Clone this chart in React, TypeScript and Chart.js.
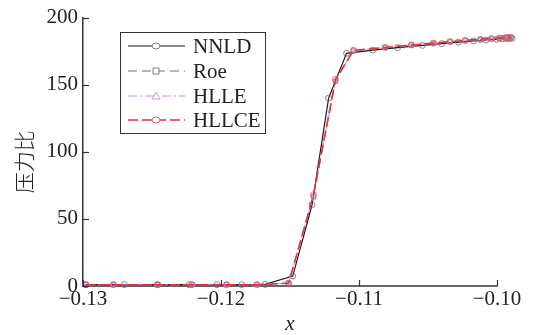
import React, { useEffect, useRef } from "react";
import { Chart, registerables } from "chart.js";

Chart.register(...registerables);

// ---- data ----
const xTicks = [-0.13, -0.12, -0.11, -0.1];
const yTicks = [0, 50, 100, 150, 200];
const X_AXIS_MIN = -0.13;
const X_AXIS_END = -0.1;
const X_VIEW_MAX = -0.09891;

const nnldX = [-0.1298, -0.127, -0.1246, -0.1223, -0.1203, -0.1185, -0.1168, -0.1148, -0.1134, -0.1122, -0.1109, -0.109, -0.1072, -0.1054, -0.104, -0.1028, -0.1017, -0.1008, -0.1, -0.0996, -0.0993, -0.0991, -0.0989];
const nnldY = [1, 1, 1, 1, 1, 1, 1.2, 7.4, 60.5, 140, 173.4, 175.8, 177.6, 179.3, 180.6, 181.7, 182.6, 183.3, 183.9, 184.2, 184.4, 184.5, 184.6];

const schemeX = [-0.1298, -0.1278, -0.1246, -0.1221, -0.1196, -0.1174, -0.1151, -0.1133, -0.1117, -0.1104, -0.1081, -0.1062, -0.1046, -0.1034, -0.1023, -0.1012, -0.1004, -0.0998, -0.0994, -0.0992, -0.099];
const roeY = [1, 1, 1, 1, 1, 1, 2.2, 66.5, 152.5, 175.2, 177.6, 179.4, 180.8, 181.9, 182.8, 183.6, 184.2, 184.6, 184.9, 185.0, 185.1];
const hlleY = [1, 1, 1, 1, 1, 1, 2.1, 67.2, 153.2, 175.4, 177.7, 179.5, 180.9, 182.0, 182.9, 183.7, 184.3, 184.7, 185.0, 185.1, 185.2];
const hllceY = [1, 1, 1, 1, 1, 1, 2, 68, 154, 175.6, 177.8, 179.6, 181.0, 182.1, 183.0, 183.8, 184.4, 184.8, 185.1, 185.2, 185.3];

const seriesNames = ["NNLD", "Roe", "HLLE", "HLLCE"];

const SERIF = "'Liberation Serif', 'DejaVu Serif', serif";

type Style = { line: string; marker: string; dash: number[]; point: string; width: number };
const styles: Style[] = [
  { line: "#1a1a1a", marker: "#6a6a6a", dash: [], point: "circle", width: 1.2 },
  { line: "#707070", marker: "#707070", dash: [9, 5], point: "rect", width: 1.0 },
  { line: "#c78fd9", marker: "#c78fd9", dash: [9, 3, 2, 3], point: "triangle", width: 1.0 },
  { line: "#e3323c", marker: "#e0505e", dash: [10, 4], point: "circle", width: 1.5 },
];

const toPts = (xs: number[], ys: number[]) => xs.map((x, i) => ({ x, y: ys[i] }));

const fmtX = (v: number) => {
  const s = Math.abs(v).toFixed(2);
  return v < 0 ? "\u2212" + s : s;
};

const overlay = {
  id: "overlay",
  beforeDatasetsDraw(chart: any) {
    const ctx = chart.ctx as CanvasRenderingContext2D;
    const xs = chart.scales.x;
    const area = chart.chartArea;
    ctx.save();
    ctx.strokeStyle = "#333";
    ctx.lineWidth = 1.5;
    ctx.beginPath();
    ctx.moveTo(xs.getPixelForValue(X_AXIS_MIN), area.bottom);
    ctx.lineTo(xs.getPixelForValue(X_AXIS_END) + 0.5, area.bottom);
    ctx.stroke();
    ctx.restore();
  },
  afterDraw(chart: any) {
    const ctx = chart.ctx as CanvasRenderingContext2D;
    const xs = chart.scales.x;
    const ys = chart.scales.y;
    const area = chart.chartArea;
    ctx.save();
    // inward ticks
    ctx.strokeStyle = "#333";
    ctx.lineWidth = 1.2;
    ctx.setLineDash([]);
    xTicks.forEach((v) => {
      const px = Math.round(xs.getPixelForValue(v)) + 0.5;
      ctx.beginPath();
      ctx.moveTo(px, area.bottom);
      ctx.lineTo(px, area.bottom - 6);
      ctx.stroke();
    });
    yTicks.forEach((v) => {
      const py = Math.round(ys.getPixelForValue(v)) + 0.5;
      ctx.beginPath();
      ctx.moveTo(area.left, py);
      ctx.lineTo(area.left + 6, py);
      ctx.stroke();
    });

    // axis titles
    const midX = (xs.getPixelForValue(X_AXIS_MIN) + xs.getPixelForValue(X_AXIS_END)) / 2;
    ctx.fillStyle = "#222";
    ctx.font = "italic 21px " + SERIF;
    ctx.textAlign = "center";
    ctx.textBaseline = "middle";
    ctx.fillText("x", midX, 324);
    ctx.save();
    ctx.translate(24, (area.top + area.bottom) / 2 + 10);
    ctx.rotate(-Math.PI / 2);
    ctx.font = "300 21px 'Noto Sans CJK SC', sans-serif";
    ctx.fillText("压力比", 0, 0);
    ctx.restore();

    // legend
    const bx = 120, by = 32, bw = 145, bh = 101;
    ctx.fillStyle = "#fff";
    ctx.fillRect(bx, by, bw, bh);
    ctx.strokeStyle = "#333";
    ctx.lineWidth = 1;
    ctx.strokeRect(bx + 0.5, by + 0.5, bw, bh);
    const rowY = [46, 71, 96, 120];
    seriesNames.forEach((name, i) => {
      const st = styles[i];
      const y = rowY[i];
      ctx.strokeStyle = st.line;
      ctx.lineWidth = st.width;
      ctx.setLineDash(st.dash);
      ctx.beginPath();
      ctx.moveTo(128, y);
      ctx.lineTo(185, y);
      ctx.stroke();
      ctx.setLineDash([]);
      ctx.strokeStyle = st.marker;
      ctx.lineWidth = 0.9;
      const cx = 156;
      ctx.fillStyle = "#fff";
      ctx.beginPath();
      if (st.point === "circle") {
        ctx.ellipse(cx, y, 4, 3, 0, 0, Math.PI * 2);
      } else if (st.point === "rect") {
        ctx.rect(cx - 3, y - 3, 6, 6);
      } else {
        ctx.moveTo(cx, y - 4);
        ctx.lineTo(cx + 4, y + 3);
        ctx.lineTo(cx - 4, y + 3);
        ctx.closePath();
      }
      ctx.fill();
      ctx.stroke();
      ctx.fillStyle = "#222";
      ctx.font = "21px " + SERIF;
      ctx.textAlign = "left";
      ctx.textBaseline = "middle";
      ctx.fillText(name, 193, y + 1);
    });
    ctx.restore();
  },
};

export default function App() {
  const ref = useRef<HTMLCanvasElement>(null);
  useEffect(() => {
    if (!ref.current) return;
    const dataSets = [toPts(nnldX, nnldY), toPts(schemeX, roeY), toPts(schemeX, hlleY), toPts(schemeX, hllceY)];
    const orders = [3, 2, 1, 0];
    const chart = new Chart(ref.current, {
      type: "line",
      data: {
        datasets: dataSets.map((d, i) => ({
          label: seriesNames[i],
          data: d,
          borderColor: styles[i].line,
          borderWidth: styles[i].width,
          borderDash: styles[i].dash,
          pointStyle: styles[i].point as any,
          pointRadius: 3,
          pointBorderWidth: 0.8,
          pointBorderColor: styles[i].marker,
          pointBackgroundColor: "rgba(0,0,0,0)",
          fill: false,
          tension: 0,
          clip: false as any,
          order: orders[i],
        })),
      },
      options: {
        responsive: false,
        animation: false,
        layout: { padding: { top: 15, right: 23, left: 0, bottom: 0 } },
        plugins: { legend: { display: false }, tooltip: { enabled: false } },
        scales: {
          x: {
            type: "linear",
            min: X_AXIS_MIN,
            max: X_VIEW_MAX,
            afterBuildTicks: (s: any) => {
              s.ticks = xTicks.map((v) => ({ value: v }));
            },
            afterFit: (s: any) => {
              s.height = 49;
            },
            ticks: {
              callback: (v: any) => fmtX(Number(v)),
              font: { family: SERIF, size: 21 },
              color: "#222",
              padding: 1,
              maxRotation: 0,
              autoSkip: false,
            },
            grid: { display: false, drawTicks: false },
            border: { display: false },
          },
          y: {
            type: "linear",
            min: 0,
            max: 200,
            afterBuildTicks: (s: any) => {
              s.ticks = yTicks.map((v) => ({ value: v }));
            },
            afterFit: (s: any) => {
              s.width = 83;
            },
            ticks: {
              font: { family: SERIF, size: 21 },
              color: "#222",
              padding: 5,
            },
            grid: { display: false, drawTicks: false },
            border: { display: true, color: "#333", width: 1.5 },
          },
        },
      },
      plugins: [overlay],
    } as any);
    return () => chart.destroy();
  }, []);
  return (
    <div style={{ position: "absolute", left: 0, top: 0, width: 535, height: 335, background: "#fff" }}>
      <canvas ref={ref} width={535} height={335} style={{ display: "block" }} />
    </div>
  );
}
